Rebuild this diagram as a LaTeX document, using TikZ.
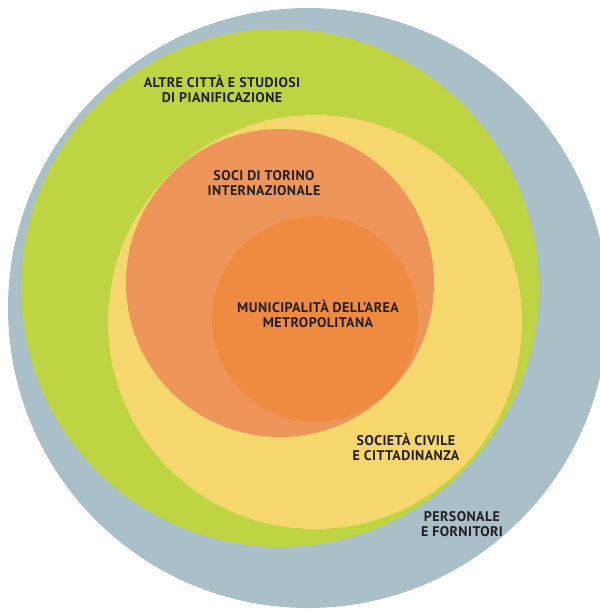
\documentclass[tikz,border=0pt]{standalone}
\usepackage{fontspec}
\setmainfont{PT Sans}
\usepackage{tikz}
\usetikzlibrary{positioning}

\definecolor{ringgrey}{HTML}{A9C0C8}
\definecolor{ringgreen}{HTML}{BED442}
\definecolor{ringyellow}{HTML}{F5D76E}
\definecolor{ringorange}{HTML}{EE965A}
\definecolor{ringcore}{HTML}{EE8B40}
\definecolor{labeltext}{HTML}{231F20}

\begin{document}
\begin{tikzpicture}
	[   x=1pt,y=-1pt,
	    ring/.style={circle,fill=#1,draw=none,inner sep=0pt},
	    rlabel/.style={align=center,text=labeltext,font=\fontsize{14}{15.5}\selectfont\bfseries\addfontfeatures{LetterSpace=3},inner sep=0pt},
	]
	\useasboundingbox (0,0) rectangle (600,611);
	\clip (0,0) rectangle (600,611);
	% rings, outside in
	\node[ring=ringgrey,minimum size=600pt] (staff) at (308,308) {};
	\node[ring=ringgreen,minimum size=518pt] (cities) at (280,288) {};
	\node[ring=ringyellow,minimum size=414pt] (civil) at (315,322) {};
	\node[ring=ringorange,minimum size=308pt] (partners) at (280,283) {};
	\node[ring=ringcore,minimum size=206pt] (core) at (315,319) {};
	
	% labels
	\node[rlabel] (l-cities) at (222,89) {ALTRE CITTÀ E STUDIOSI\\DI PIANIFICAZIONE};
	\node[rlabel] (l-partners) at (264,183) {SOCI DI TORINO\\INTERNAZIONALE};
	\node[rlabel] (l-core) at (318,314) {MUNICIPALITÀ DELL'AREA\\METROPOLITANA};
	\node[rlabel] (l-civil) at (406,447) {SOCIETÀ CIVILE\\E CITTADINANZA};
	\node[rlabel] (l-staff) at (462,524) {PERSONALE\\E FORNITORI};
\end{tikzpicture}
\end{document}
